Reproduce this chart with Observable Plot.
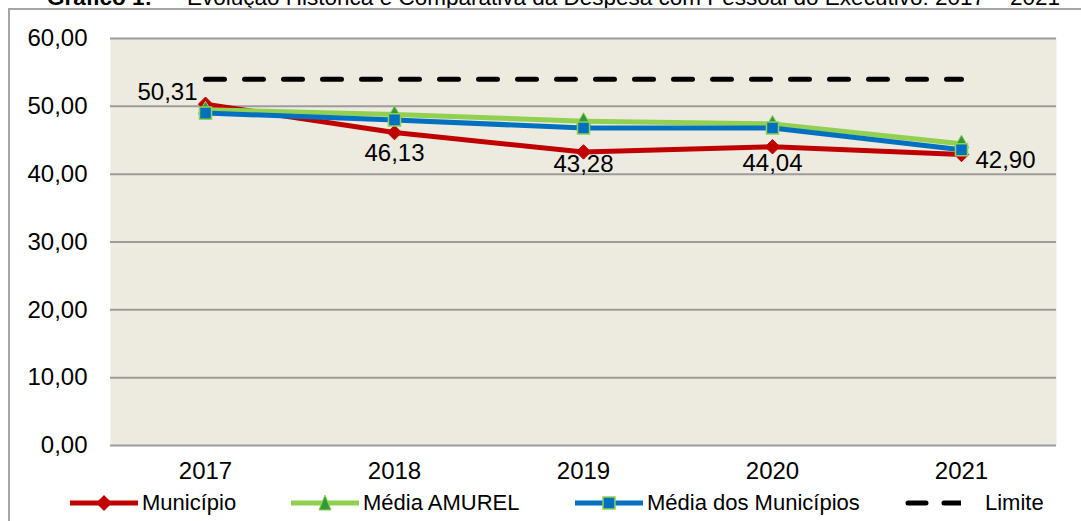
<!DOCTYPE html>
<html>
<head>
<meta charset="utf-8">
<script src="https://cdn.jsdelivr.net/npm/d3@7"></script>
<script src="https://cdn.jsdelivr.net/npm/@observablehq/plot@0.6"></script>
<style>
  html, body { margin: 0; padding: 0; background: #ffffff; }
  body { width: 1081px; height: 521px; overflow: hidden; position: relative; font-family: "Liberation Sans", Arial, sans-serif; }
  #title { position: absolute; left: 47px; top: -15px; font-size: 22.5px; white-space: nowrap; color: #000; }
  #title b { margin-right: 10px; }
  #frame { position: absolute; left: 8px; top: 8px; width: 1090px; height: 530px; border-left: 2px solid #a6a6a6; border-top: 2px solid #a6a6a6; }
  #chart { position: absolute; left: 0; top: 0; }
  #legend { position: absolute; left: 0; top: 485px; width: 1081px; height: 36px; }
  .item { position: absolute; top: 0; height: 36px; display: flex; align-items: center; font-size: 22px; color: #000; }
  .item svg { margin-right: 4px; }
</style>
</head>
<body>
<div id="title"><b>Gráfico 1:</b> – Evolução Histórica e Comparativa da Despesa com Pessoal do Executivo: 2017 – 2021</div>
<div id="frame"></div>
<div id="chart"></div>
<div id="legend"></div>
<script>
// ---- Data ----
const years = ["2017", "2018", "2019", "2020", "2021"];
const municipio = [50.31, 46.13, 43.28, 44.04, 42.90];
const mediaAmurel = [49.5, 48.8, 47.8, 47.4, 44.5];
const mediaMunicipios = [49.0, 48.0, 46.8, 46.8, 43.6];
const limite = [54, 54, 54, 54, 54];
const yTicks = [0, 10, 20, 30, 40, 50, 60];
const seriesNames = ["Município", "Média AMUREL", "Média dos Municípios", "Limite"];

const fmt = v => v.toFixed(2).replace(".", ",");
const rows = arr => years.map((y, i) => ({year: y, value: arr[i], label: fmt(arr[i])}));
const dMun = rows(municipio);
const dAm = rows(mediaAmurel);
const dMed = rows(mediaMunicipios);
const dLim = rows(limite);

const RED = "#C00000", GREEN = "#92D050", DKGREEN = "#2E9A3A", BLUE = "#0070C0";
const FS = 24;

const chart = Plot.plot({
  width: 1081,
  height: 485,
  marginLeft: 110,
  marginRight: 25,
  marginTop: 38,
  marginBottom: 40,
  style: {background: "transparent", fontFamily: "'Liberation Sans', Arial, sans-serif", fontSize: FS + "px", color: "#000"},
  x: {type: "point", domain: years, padding: 0.5, label: null},
  y: {domain: [0, 60], label: null},
  marks: [
    Plot.frame({fill: "#EDEAE0", stroke: "none"}),
    Plot.ruleY(yTicks, {stroke: "#9c9c9c", strokeWidth: 2}),
    Plot.axisY({ticks: yTicks, tickSize: 0, tickPadding: 23, tickFormat: fmt, fontSize: FS, label: null}),
    Plot.axisX({tickSize: 0, tickPadding: 16, fontSize: FS, label: null}),
    // Município
    Plot.line(dMun, {x: "year", y: "value", stroke: RED, strokeWidth: 5}),
    Plot.dot(dMun, {x: "year", y: "value", symbol: "diamond2", r: 6.5, fill: RED, stroke: RED, strokeWidth: 1}),
    // Média AMUREL
    Plot.line(dAm, {x: "year", y: "value", stroke: GREEN, strokeWidth: 5}),
    Plot.dot(dAm, {x: "year", y: "value", symbol: "triangle", r: 5.5, fill: DKGREEN, stroke: GREEN, strokeWidth: 1}),
    // Média dos Municípios
    Plot.line(dMed, {x: "year", y: "value", stroke: BLUE, strokeWidth: 5}),
    Plot.dot(dMed, {x: "year", y: "value", symbol: "square", r: 6.8, fill: BLUE, stroke: GREEN, strokeWidth: 1.5}),
    // Limite
    Plot.line(dLim, {x: "year", y: "value", stroke: "#000", strokeWidth: 5, strokeDasharray: "19,20", strokeLinecap: "round"}),
    // Data labels
    Plot.text(dMun.filter(d => d.year === "2017"), {x: "year", y: "value", text: "label", textAnchor: "end", dx: -8, dy: -12, fontSize: FS, fill: "#000"}),
    Plot.text(dMun.filter(d => d.year === "2018"), {x: "year", y: "value", text: "label", dy: 21, fontSize: FS, fill: "#000"}),
    Plot.text(dMun.filter(d => d.year === "2019"), {x: "year", y: "value", text: "label", dy: 12, fontSize: FS, fill: "#000"}),
    Plot.text(dMun.filter(d => d.year === "2020"), {x: "year", y: "value", text: "label", dy: 17, fontSize: FS, fill: "#000"}),
    Plot.text(dMun.filter(d => d.year === "2021"), {x: "year", y: "value", text: "label", textAnchor: "start", dx: 14, dy: 6, fontSize: FS, fill: "#000"})
  ]
});
document.getElementById("chart").appendChild(chart);

// ---- Legend ----
const swatch = (kind) => {
  const w = kind === "lim" ? 56 : 68;
  let s = `<svg width="${w}" height="20" viewBox="0 0 ${w} 20">`;
  if (kind === "lim") {
    s += `<line x1="3" y1="10" x2="${w}" y2="10" stroke="#000" stroke-width="5" stroke-linecap="round" stroke-dasharray="18,18"/>`;
  } else {
    const c = kind === "mun" ? RED : kind === "am" ? GREEN : BLUE;
    s += `<line x1="0" y1="10" x2="${w}" y2="10" stroke="${c}" stroke-width="5"/>`;
    const cx = w / 2;
    if (kind === "mun") s += `<path d="M${cx},2 L${cx + 8},10 L${cx},18 L${cx - 8},10Z" fill="${RED}"/>`;
    if (kind === "am") s += `<path d="M${cx},2 L${cx + 6},17 L${cx - 6},17Z" fill="${DKGREEN}" stroke="${GREEN}"/>`;
    if (kind === "med") s += `<rect x="${cx - 6}" y="4" width="12" height="12" fill="${BLUE}" stroke="${GREEN}" stroke-width="1.5"/>`;
  }
  return s + "</svg>";
};
const legendItems = [
  {kind: "mun", left: 70},
  {kind: "am", left: 291},
  {kind: "med", left: 575},
  {kind: "lim", left: 905}
];
const lg = document.getElementById("legend");
legendItems.forEach((it, i) => {
  const div = document.createElement("div");
  div.className = "item";
  div.style.left = it.left + "px";
  div.innerHTML = swatch(it.kind) + (it.kind === "lim" ? `<span style="margin-left:20px">${seriesNames[i]}</span>` : `<span>${seriesNames[i]}</span>`);
  lg.appendChild(div);
});
</script>
</body>
</html>
